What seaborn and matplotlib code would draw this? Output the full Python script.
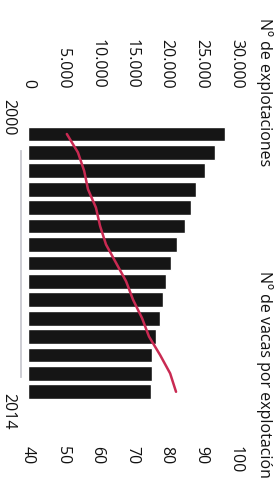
import matplotlib
matplotlib.use("Agg")
import matplotlib.pyplot as plt
import seaborn as sns
import pandas as pd

# ---- data ----
years = [2000, 2001, 2002, 2003, 2004, 2005, 2006, 2007, 2008, 2009, 2010, 2011, 2012, 2013, 2014]
explotaciones = [28400, 27000, 25500, 24200, 23500, 22600, 21500, 20600, 19900, 19500, 19000, 18500, 17900, 17900, 17700]
vacas_por_explotacion = [51.2, 54.4, 56.2, 57.3, 59.6, 60.8, 62.5, 65.4, 68.3, 70.3, 72.9, 74.9, 78.1, 81.0, 82.7]
left_ticks = [0, 5000, 10000, 15000, 20000, 25000, 30000]
left_labels = ["0", "5.000", "10.000", "15.000", "20.000", "25.000", "30.000"]
right_ticks = [40, 50, 60, 70, 80, 90, 100]
right_labels = ["40", "50", "60", "70", "80", "90", "100"]
title_left = "Nº de explotaciones"
title_right = "Nº de vacas por explotación"

df = pd.DataFrame({
    "year": [str(y) for y in years],
    "explotaciones": explotaciones,
    "vacas": vacas_por_explotacion,
})
df["pos"] = df.index

sns.set_theme(style="white")
plt.rcParams["font.family"] = ["Open Sans", "DejaVu Sans"]
FS = 11.5
DPI = 100
fig = plt.figure(figsize=(2.78, 4.81), dpi=DPI)
ax = fig.add_axes([28 / 278, 1 - 402 / 481, 208 / 278, 276.2 / 481])

sns.barplot(data=df, x="explotaciones", y="year", order=df["year"], orient="h",
            color="#151515", width=0.8, saturation=1, ax=ax)

ax2 = ax.twiny()
sns.lineplot(data=df, x="vacas", y="pos", sort=False, orient="y",
             color="#c92a52", linewidth=1.8, ax=ax2)

n = len(years)
ax.set_xlim(left_ticks[0], left_ticks[-1])
ax2.set_xlim(right_ticks[0], right_ticks[-1])
ax.set_xlabel("")
ax.set_ylabel("")
ax2.set_xlabel("")
ax2.set_ylabel("")

# spines first (set_position resets ticks)
for a in (ax, ax2):
    for s in a.spines.values():
        s.set_visible(False)
ax.spines["left"].set_visible(True)
ax.spines["left"].set_color("#c9c9d0")
ax.spines["left"].set_linewidth(1.3)
ax.spines["left"].set_position(("outward", 5))
ax.spines["left"].set_bounds(0.95, n - 1.8)

# top axis: number of farms (rotated chart)
ax.xaxis.tick_top()
ax.set_xticks(left_ticks)
ax.set_xticklabels(left_labels)
ax.tick_params(axis="x", length=0, pad=27, labelsize=FS, colors="#111111")
for lab in ax.get_xticklabels():
    lab.set_rotation(-90)
    lab.set_rotation_mode("anchor")
    lab.set_ha("right")
    lab.set_va("center")

# bottom axis: cows per farm
ax2.xaxis.tick_bottom()
ax2.set_xticks(right_ticks)
ax2.set_xticklabels(right_labels)
ax2.tick_params(axis="x", length=0, pad=32, labelsize=FS, colors="#111111")
for lab in ax2.get_xticklabels():
    lab.set_rotation(-90)
    lab.set_rotation_mode("anchor")
    lab.set_ha("left")
    lab.set_va("center")

# years (only first and last labelled)
ax.set_ylim(n - 0.5, -0.5)
ax.set_yticks([0, n - 1])
ax.set_yticklabels([str(years[0]), str(years[-1])])
ax.tick_params(axis="y", length=0, pad=9, labelsize=FS, colors="#111111",
               left=True, labelleft=True)
ylabs = ax.get_yticklabels()
for lab in ylabs:
    lab.set_rotation(-90)
    lab.set_rotation_mode("anchor")
    lab.set_va("center")
ylabs[0].set_ha("right")
ylabs[-1].set_ha("left")

fig.text(264 / 278, 1 - 92 / 481, title_left, rotation=-90, ha="center", va="center",
         fontsize=FS, color="#111111")
fig.text(264 / 278, 1 - 374 / 481, title_right, rotation=-90, ha="center", va="center",
         fontsize=FS, color="#111111")

fig.savefig("out.png", dpi=DPI, facecolor="white")
